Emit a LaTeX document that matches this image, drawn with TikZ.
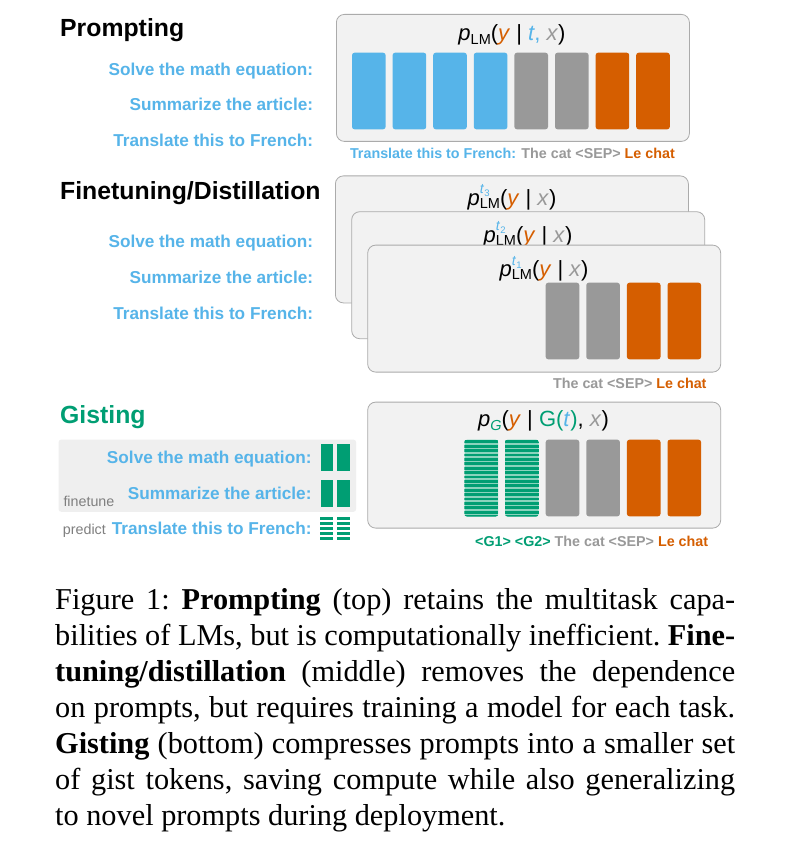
\documentclass[tikz,border=0pt]{standalone}
\usepackage{fontspec}
\setmainfont{Liberation Serif}
\setsansfont{Liberation Sans}
\usetikzlibrary{positioning,calc}

\definecolor{skyblue}{HTML}{56B4E9}
\definecolor{tokgray}{HTML}{999999}
\definecolor{vermil}{HTML}{D55E00}
\definecolor{gistgreen}{HTML}{009E73}
\definecolor{gistlight}{HTML}{8AD3BD}
\definecolor{panelfill}{HTML}{F2F2F2}
\definecolor{paneldraw}{HTML}{ABABAB}
\definecolor{tunefill}{HTML}{EFEFEF}
\definecolor{notegray}{HTML}{7F7F7F}

% pieces of the formulas
\newcommand{\lmsub}{\raisebox{-0.3ex}{\fontsize{14.5}{15}\selectfont LM}}
\newcommand{\tsup}[1]{\rlap{\raisebox{0.95ex}{\fontsize{14}{14}\selectfont\color{skyblue}\textit{t}\raisebox{-0.35ex}{\fontsize{9.5}{10}\selectfont #1}}}}
\newcommand{\yy}{\textcolor{vermil}{\textit{y}}}
\newcommand{\xx}{\textcolor{tokgray}{\textit{x}}}
\newcommand{\capline}[1]{\hbox to 680pt{#1}}

\begin{document}
\begin{tikzpicture}[x=1pt,y=-1pt,
	panel/.style={draw=paneldraw, fill=panelfill, line width=0.8pt, rounded corners=8pt, anchor=north west, minimum width=353pt, minimum height=127pt, inner sep=0pt},
	tok/.style={rounded corners=2.5pt, minimum width=33.6pt, minimum height=76.6pt, inner sep=0pt},
	mini/.style={minimum width=12.7pt, minimum height=27pt, inner sep=0pt},
	title/.style={font=\fontsize{24.8}{28}\selectfont\sffamily\bfseries, anchor=base west, inner sep=0pt},
	prompt/.style={font=\fontsize{17.2}{20}\selectfont\sffamily\bfseries, text=skyblue, anchor=base east, inner sep=0pt},
	seq/.style={font=\fontsize{14.3}{16}\selectfont\sffamily\bfseries, anchor=base east, inner sep=0pt},
	note/.style={font=\fontsize{14.3}{16}\selectfont\sffamily, text=notegray, anchor=base west, inner sep=0pt},
	formula/.style={font=\fontsize{22}{24}\selectfont\sffamily, anchor=base, inner sep=0pt}]

	\fill[white] (0,0) rectangle (790,845);
	\useasboundingbox (0,0) rectangle (790,845);

	% prompting
	\node (ptitle) [title] at (60,36.7) {Prompting};
	\node (pq1) [prompt] at (313.3,75.7) {Solve the math equation:};
	\node (pq2) [prompt] at (313.3,110.7) {Summarize the article:};
	\node (pq3) [prompt] at (313.3,146.7) {Translate this to French:};

	\node (lm) [panel] at (336,14) {};
	\node (lmf) [formula] at (512,41) {\textit{p}\lmsub(\yy\ \textbar\ \textcolor{skyblue}{\textit{t},} \xx)};
	\foreach \i/\c in {1/skyblue,2/skyblue,3/skyblue,4/skyblue,5/tokgray,6/tokgray,7/vermil,8/vermil}
		\node (lmt\i) [tok, fill=\c] at (368.8+40.6*\i-40.6,91) {};
	\node (lmseq) [seq] at (675,159) {\textcolor{skyblue}{Translate this to French:} \textcolor{tokgray}{The cat <SEP>} \textcolor{vermil}{Le chat}};

	% finetuning
	\node (ftitle) [title] at (60,199.3) {Finetuning/Distillation};
	\node (fq1) [prompt] at (313.3,247.3) {Solve the math equation:};
	\node (fq2) [prompt] at (313.3,283.3) {Summarize the article:};
	\node (fq3) [prompt] at (313.3,319) {Translate this to French:};

	\node (ft3) [panel] at (335,175.5) {};
	\node (ft3f) [formula] at (512,205) {\textit{p}\tsup{3}\lmsub(\yy\ \textbar\ \xx)};
	\node (ft2) [panel] at (351.3,211.3) {};
	\node (ft2f) [formula] at (528,242) {\textit{p}\tsup{2}\lmsub(\yy\ \textbar\ \xx)};
	\node (ft1) [panel] at (367.3,244.7) {};
	\node (ft1f) [formula] at (544,276.5) {\textit{p}\tsup{1}\lmsub(\yy\ \textbar\ \xx)};
	\foreach \i/\c in {5/tokgray,6/tokgray,7/vermil,8/vermil}
		\node (ftt\i) [tok, fill=\c] at (400.1+40.6*\i-40.6,321) {};
	\node (ftseq) [seq] at (706.7,388.3) {\textcolor{tokgray}{The cat <SEP>} \textcolor{vermil}{Le chat}};

	% gisting
	\node (gtitle) [title, text=gistgreen] at (60,423.3) {Gisting};
	\node (tune) [fill=tunefill, rounded corners=3pt, anchor=north west, minimum width=297.7pt, minimum height=72.4pt, inner sep=0pt] at (58.3,439.3) {};
	\node (gq1) [prompt] at (311.7,463.3) {Solve the math equation:};
	\node (gq2) [prompt] at (311.7,499) {Summarize the article:};
	\node (gq3) [prompt] at (311.7,534.3) {Translate this to French:};
	\node (fnote) [note] at (63.3,506) {finetune};
	\node (pnote) [note] at (62.7,534.3) {predict};

	\foreach \j/\x in {1/327,2/343.7} {
		\node (gm1\j) [mini, fill=gistgreen] at (\x,457.7) {};
		\node (gm2\j) [mini, fill=gistgreen] at (\x,493.9) {};
		\node (gm3\j) [mini, fill=white, minimum height=25pt] at (\x,529.2) {};
		\foreach \k in {0,...,4}
			\fill[gistgreen] ($(gm3\j.north west)+(0,5*\k)$) rectangle ++(12.7,3.3);
	}

	\node (gs) [panel, minimum height=126pt] at (367.3,401.7) {};
	\node (gsf) [formula] at (543.5,426.7) {\textit{p}\raisebox{-0.3ex}{\fontsize{14.5}{15}\selectfont\color{gistgreen}\textit{G}}(\yy\ \textbar\ \textcolor{gistgreen}{G(\textcolor{skyblue}{\textit{t}})}, \xx)};
	\foreach \i/\c in {3/gistlight,4/gistlight,5/tokgray,6/tokgray,7/vermil,8/vermil}
		\node (gst\i) [tok, fill=\c] at (400.1+40.6*\i-40.6,478) {};
	\foreach \i in {3,4} {
		\begin{scope}
			\clip[rounded corners=2.5pt] (gst\i.south west) rectangle (gst\i.north east);
			\foreach \k in {0,...,17}
				\fill[gistgreen] ($(gst\i.north west)+(0,0.8+4.4*\k)$) rectangle ++(33.6,2.8);
		\end{scope}
	}
	\node (gsseq) [seq] at (708.3,546.7) {\textcolor{gistgreen}{<G1> <G2>} \textcolor{tokgray}{The cat <SEP>} \textcolor{vermil}{Le chat}};

	% caption
	\node (capt) [anchor=base west, inner sep=0pt, font=\fontsize{30.3}{36}\selectfont\frenchspacing] at (55,609.5) {\vtop{%
		\capline{Figure 1: \textbf{Prompting} (top) retains the multitask capa-}
		\capline{bilities of LMs, but is computationally inefficient. \textbf{Fine-}}
		\capline{\textbf{tuning/distillation} (middle) removes the dependence}
		\capline{on prompts, but requires training a model for each task.}
		\capline{\textbf{Gisting} (bottom) compresses prompts into a smaller set}
		\capline{of gist tokens, saving compute while also generalizing}
		\hbox{to novel prompts during deployment.}}};

\end{tikzpicture}
\end{document}
